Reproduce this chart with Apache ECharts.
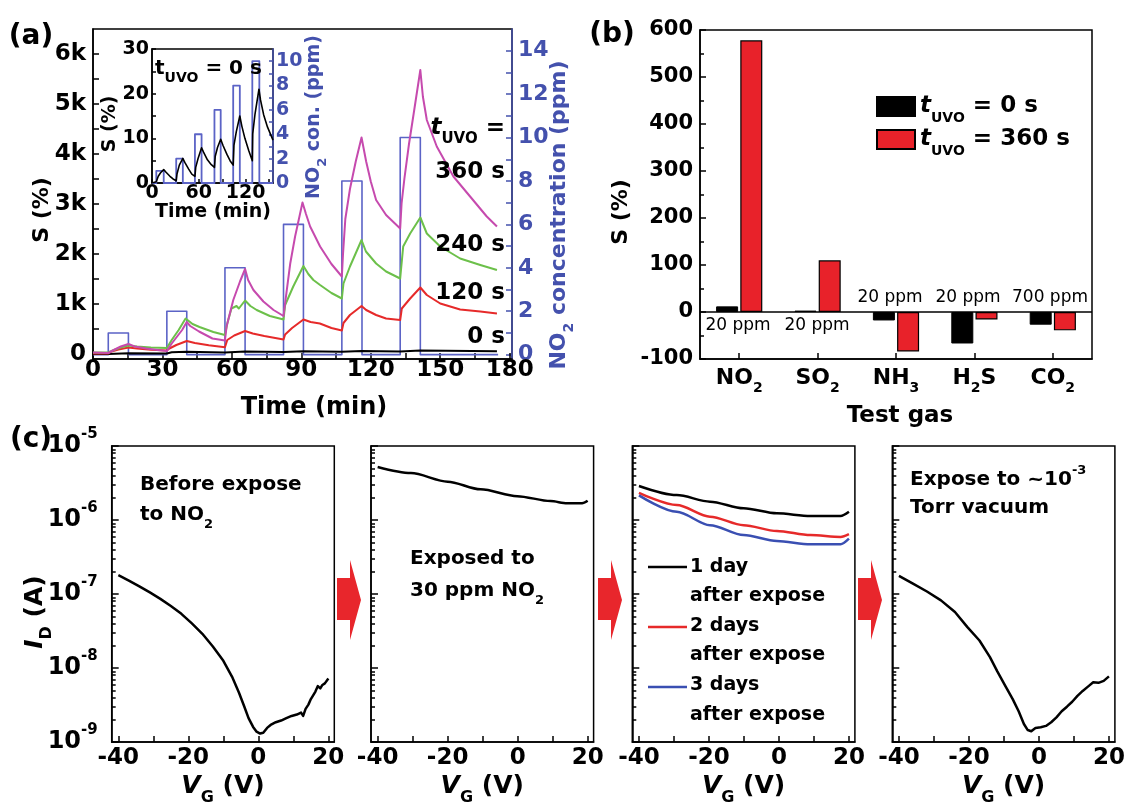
<!DOCTYPE html>
<html>
<head>
<meta charset="utf-8">
<script src="https://cdn.jsdelivr.net/npm/echarts@6/dist/echarts.min.js"></script>
<style>
html, body { margin: 0; padding: 0; background: #fff; }
#main { width: 1126px; height: 810px; }
</style>
</head>
<body>
<div id="main"></div>
<script>
// ---------- (a) response S (%) vs time (min) ----------
var s0s = [[0,0],[6.6,0],[15.3,15],[31.9,10],[34,35],[40.5,45],[57,30],[65.7,50],[82.3,40],[90.9,55],[107.5,45],[116,60],[132.7,50],[141.4,70],[174.5,55]];
var s120s = [[0,10],[6.6,10],[8,50],[11,90],[15.3,130],[19,110],[25,85],[31.9,70],[33,110],[36,180],[40.5,260],[44,220],[50,175],[57,135],[58,280],[61,370],[65.7,460],[69,410],[74,360],[82.3,290],[83,390],[86,520],[90.9,690],[94,640],[98,610],[103,520],[107.5,470],[108.2,620],[111,780],[116,960],[118,880],[122.3,780],[126.6,710],[132.7,680],[133.4,910],[137,1110],[141.4,1330],[144.2,1180],[150,1010],[158.6,890],[167.3,850],[174.5,810]];
var s240s = [[0,30],[6.6,30],[9,80],[12,130],[15.3,170],[19,150],[25,130],[31.9,120],[34,280],[37,480],[40,710],[43,600],[46,540],[52,440],[57,380],[58,610],[59.8,910],[62,960],[63,910],[65.7,1070],[68,960],[70.7,880],[76.4,760],[82.3,690],[83,980],[86.5,1350],[90.9,1760],[93,1600],[95.2,1480],[98.1,1380],[103,1220],[107.5,1110],[108.2,1410],[111,1750],[116,2280],[117.9,2050],[122.3,1810],[126.6,1650],[132.7,1510],[134,2150],[137,2410],[141.4,2730],[144.2,2410],[150,2150],[158.6,1910],[167.3,1780],[174.5,1680]];
var s360s = [[0,30],[6.6,20],[9,80],[12,150],[15.3,200],[18,150],[23,110],[28,80],[31.9,60],[34,210],[36.5,360],[38.5,480],[40.5,640],[42,560],[45.8,450],[51.6,310],[57,270],[57.7,550],[60.6,1080],[63.5,1450],[65.7,1700],[67,1480],[69.3,1280],[73.6,1050],[78,880],[82.3,760],[82.8,950],[85.2,1810],[87.3,2350],[90.5,3030],[92,2800],[93.8,2550],[98.1,2150],[103,1800],[107.5,1550],[108,2000],[109,2700],[111,3300],[113.5,3850],[116,4330],[118,3850],[120,3450],[122.3,3080],[126.6,2780],[132.7,2510],[133.3,3010],[134.5,3500],[136.5,4200],[138.5,4800],[141.4,5680],[142.5,5150],[144.2,4680],[148.5,4150],[155.7,3550],[162.9,3150],[170.1,2750],[174.5,2550]];
var pulseStart = [6.6, 31.9, 57, 82.3, 107.5, 132.7];
var pulseEnd = [15.3, 40.5, 65.7, 90.9, 116.2, 141.4];
var pulsePpm = [1, 2, 4, 6, 8, 10];
var timeTicks = [0,15,30,45,60,75,90,105,120,135,150,165,180];
var timeLabels = [0,30,60,90,120,150,180];
var sTicks = [0,500,1000,1500,2000,2500,3000,3500,4000,4500,5000,5500,6000];
var sLabels = [0,1000,2000,3000,4000,5000,6000];
var ppmTicks = [0,1,2,3,4,5,6,7,8,9,10,11,12,13,14];
var ppmLabels = [0,2,4,6,8,10,12,14];

// ---------- (a) inset, t_UVO = 0 s ----------
var insetS = [[0,0],[5.5,0.3],[8,1.5],[11,2.3],[15,3],[18,2.4],[23,1.5],[27,0.9],[31,0.5],[32,2],[35,4],[39.5,5.5],[42,4.6],[47,3.1],[51,2],[55,1.5],[56,3.5],[59,5.5],[63.5,7.9],[66,6.9],[71,5.2],[76,4.1],[80,3.5],[81,6],[84,8],[88,9.8],[91,8.4],[96,6.4],[100,5],[104,4],[105,8.5],[108,11.5],[112.5,15],[115,12.8],[119,10],[124,7.2],[128.5,5],[129,11],[132,15.5],[137,21],[139,18.6],[143,15.3],[148,12.5],[155,9.6]];
var insetPulseStart = [5.5, 31, 55, 80, 104, 128.5];
var insetPulseEnd = [15, 39.5, 63.5, 88, 112.5, 137.5];
var insetPulsePpm = [1, 2, 4, 6, 8, 10];
var insetTimeTicks = [0,30,60,90,120,150];
var insetTimeLabels = [0,60,120];
var insetSTicks = [0,5,10,15,20,25,30];
var insetSLabels = [0,10,20,30];
var insetPpmTicks = [0,1,2,3,4,5,6,7,8,9,10];
var insetPpmLabels = [0,2,4,6,8,10];

// ---------- (b) selectivity ----------
var gasNames = ['NO2', 'SO2', 'NH3', 'H2S', 'CO2'];
var sUvo0 = [12, 3, -18, -67, -27];
var sUvo360 = [578, 110, -84, -16, -39];
var gasConc = ['20 ppm', '20 ppm', '20 ppm', '20 ppm', '700 ppm'];

// ---------- (c) transfer curves, I_D (A) vs V_G (V) ----------
var vg1 = [-40,-37,-34,-31,-28,-25,-22,-19,-16,-13,-10,-7.5,-5.5,-4,-2.8,-1.5,-0.5,0.5,1.4,2.5,3.5,5,6.5,8,9.5,11,12.2,12.8,13.5,14.3,15,15.7,16.3,17,17.7,18.3,19,20];
var id1 = [1.8e-7,1.52e-7,1.27e-7,1.05e-7,8.6e-8,6.9e-8,5.4e-8,4.0e-8,2.9e-8,1.95e-8,1.25e-8,7.6e-9,4.6e-9,3.0e-9,2.1e-9,1.6e-9,1.38e-9,1.3e-9,1.33e-9,1.55e-9,1.7e-9,1.85e-9,1.95e-9,2.1e-9,2.25e-9,2.35e-9,2.5e-9,2.25e-9,2.8e-9,3.2e-9,3.8e-9,4.3e-9,4.8e-9,5.7e-9,5.3e-9,5.9e-9,6.2e-9,7.2e-9];
var vg2 = [-40,-30.5,-20,-10.6,-0.1,9.4,14.1,18.4,20];
var id2 = [5.2e-6,4.3e-6,3.3e-6,2.6e-6,2.1e-6,1.8e-6,1.68e-6,1.68e-6,1.82e-6];
var vg3 = [-40,-29.2,-19.7,-10.1,-0.6,9,17.6,20];
var id3Day1 = [2.88e-6,2.17e-6,1.77e-6,1.44e-6,1.23e-6,1.13e-6,1.13e-6,1.29e-6];
var id3Day2 = [2.33e-6,1.59e-6,1.11e-6,8.5e-7,7.1e-7,6.25e-7,5.9e-7,6.45e-7];
var id3Day3 = [2.15e-6,1.29e-6,8.5e-7,6.25e-7,5.2e-7,4.7e-7,4.7e-7,5.6e-7];
var vg4 = [-40,-36,-32,-28,-24,-20.5,-17,-14,-11.9,-9.5,-7.5,-5.8,-4.3,-3.2,-2.2,-1,0.5,2,3.5,5,6.5,8,9.5,11,12.5,14,15.5,17,18.5,20];
var id4 = [1.76e-7,1.38e-7,1.08e-7,8.2e-8,5.7e-8,3.6e-8,2.35e-8,1.4e-8,9.0e-9,5.6e-9,3.8e-9,2.6e-9,1.75e-9,1.45e-9,1.4e-9,1.55e-9,1.58e-9,1.65e-9,1.85e-9,2.15e-9,2.6e-9,3.0e-9,3.5e-9,4.2e-9,4.9e-9,5.6e-9,6.4e-9,6.3e-9,6.7e-9,7.7e-9];
var vgTicks = [-40,-30,-20,-10,0,10,20];
var vgLabels = [-40,-20,0,20];
var logLabels = [-9,-8,-7,-6,-5];

var FONT = 'DejaVu Sans';
var BLUE_TXT = '#4451ad';
var BLUE_LN = '#5b63c6';
var MAGENTA = '#c64aae';
var GREEN = '#6cc04a';
var RED = '#e62a2a';
var BAR_RED = '#e8222a';

function txt(size, color, extra) {
  color = color || '#000';
  return Object.assign({fontFamily: FONT, fontWeight: 'bold', fontSize: size, color: color, fill: color}, extra || {});
}
function richSet(size, color, sub) {
  sub = sub || Math.round(size * 0.62);
  var H = Math.round(size * 1.6), d = Math.round(size * 0.32);
  return {
    m: txt(size, color, {lineHeight: H, verticalAlign: 'middle'}),
    i: txt(size, color, {lineHeight: H, verticalAlign: 'middle', fontStyle: 'italic'}),
    r: txt(size, color, {lineHeight: H, verticalAlign: 'middle', fontWeight: 'normal'}),
    s: txt(sub, color, {lineHeight: H - 2 * d, verticalAlign: 'bottom'}),
    p: txt(sub, color, {lineHeight: H - 2 * d, verticalAlign: 'top'})
  };
}
function gt(x, y, text, size, o) {
  o = o || {};
  var color = o.color || '#000';
  return {
    type: 'text', x: x, y: y, rotation: o.rot || 0, z: 100, silent: true,
    style: {
      text: text, rich: richSet(size, color, o.sub),
      fill: color, fontFamily: FONT, fontWeight: 'bold', fontSize: size,
      align: o.align || 'center', textAlign: o.align || 'center',
      verticalAlign: 'middle', textVerticalAlign: 'middle'
    }
  };
}
function vAxis(o) {
  var color = o.color || '#000';
  var label = {show: false};
  if (o.labels) {
    label = txt(o.size, color, {show: true, customValues: o.labels, margin: o.margin});
    if (o.fmt) label.formatter = o.fmt;
    if (o.rich) label.rich = o.rich;
    if (o.valign) label.verticalAlign = o.valign;
  }
  return {
    type: 'value', gridIndex: o.grid, position: o.pos, min: o.min, max: o.max,
    splitLine: {show: false},
    axisLine: {show: o.line !== false, onZero: false, lineStyle: {color: color, width: 1.5}},
    axisTick: {show: true, inside: true, length: o.len || 6, customValues: o.ticks, lineStyle: {color: color, width: 1.5}},
    axisLabel: label
  };
}
function lineS(name, xi, yi, data, color, w, extra) {
  return Object.assign({
    name: name, type: 'line', xAxisIndex: xi, yAxisIndex: yi, data: data,
    symbol: 'none', showSymbol: false, silent: true, z: 3,
    lineStyle: {color: color, width: w, join: 'round'}, itemStyle: {color: color},
    emphasis: {disabled: true}
  }, extra || {});
}
function pulseLine(st, en, v, tEnd) {
  var pts = [[0, 0]];
  for (var i = 0; i < st.length; i++) {
    pts.push([st[i], 0], [st[i], v[i]], [en[i], v[i]], [en[i], 0]);
  }
  pts.push([tEnd, 0]);
  return pts;
}
function logPairs(v, id) {
  return v.map(function (x, i) { return [x, Math.log10(id[i])]; });
}
function gridBox(left, top, width, height, extra) {
  return Object.assign({left: left, top: top, width: width, height: height, show: true,
    borderColor: '#000', borderWidth: 1.5, outerBoundsMode: 'none', containLabel: false}, extra || {});
}

// minor ticks of the log axes
var logMinor = [];
for (var n = -9; n < -5; n++) {
  for (var k = 2; k <= 9; k++) logMinor.push(n + Math.log10(k));
}

var cLeft = [111.7, 371, 632.3, 892.3];
var cTop = 446, cW = 222.6, cH = 296;

var grids = [
  gridBox(93, 29, 419, 330),
  gridBox(152, 49, 121, 134, {backgroundColor: '#fff'}),
  gridBox(700, 30, 392, 329)
];
cLeft.forEach(function (l) { grids.push(gridBox(l, cTop, cW, cH)); });

var kFmt = function (v) { return v === 0 ? '0' : (v / 1000) + 'k'; };
var logFmt = function (v) { return '{m|10}{p|' + v + '}'; };
var gasFmt = function (v) { return '{m|' + v.replace(/(\d)/g, '}{s|$1}{m|') + '}'; };

var xAxes = [
  vAxis({grid: 0, pos: 'bottom', min: 0, max: 181, ticks: timeTicks, labels: timeLabels, size: 23, margin: 11, valign: 'middle'}),
  vAxis({grid: 1, pos: 'bottom', min: 0, max: 155, ticks: insetTimeTicks, labels: insetTimeLabels, size: 19, margin: 10, valign: 'middle', len: 4}),
  {
    type: 'category', gridIndex: 2, position: 'bottom', data: gasNames,
    axisLine: {show: true, onZero: false, lineStyle: {color: '#000', width: 1.5}},
    axisTick: {show: true, inside: true, alignWithLabel: true, length: 6, lineStyle: {color: '#000', width: 1.5}},
    axisLabel: txt(22, '#000', {interval: 0, hideOverlap: false, margin: 19, verticalAlign: 'middle', formatter: gasFmt, rich: richSet(22, '#000', 14)}),
    splitLine: {show: false}
  }
];
var yAxes = [
  vAxis({grid: 0, pos: 'left', min: -100, max: 6500, ticks: sTicks, labels: sLabels, size: 23, margin: 7, fmt: kFmt}),
  vAxis({grid: 0, pos: 'right', min: -0.2, max: 15, ticks: ppmTicks, labels: ppmLabels, size: 22, margin: 6, color: BLUE_TXT}),
  vAxis({grid: 1, pos: 'left', min: 0, max: 30, ticks: insetSTicks, labels: insetSLabels, size: 19, margin: 3, len: 4}),
  vAxis({grid: 1, pos: 'right', min: 0, max: 11, ticks: insetPpmTicks, labels: insetPpmLabels, size: 19, margin: 3, len: 4, color: BLUE_TXT}),
  {
    type: 'value', gridIndex: 2, position: 'left', min: -100, max: 600, interval: 100,
    splitLine: {show: false},
    axisLine: {show: true, onZero: false, lineStyle: {color: '#000', width: 1.5}},
    axisTick: {show: true, inside: true, length: 6, lineStyle: {color: '#000', width: 1.5}},
    minorTick: {show: true, splitNumber: 2, length: 4, lineStyle: {color: '#000', width: 1.5}},
    axisLabel: txt(21, '#000', {margin: 7})
  }
];
for (var g = 0; g < 4; g++) {
  xAxes.push(vAxis({grid: 3 + g, pos: 'bottom', min: -41.9, max: 21.7, ticks: vgTicks, labels: vgLabels, size: 23, margin: 16, valign: 'middle'}));
  yAxes.push(vAxis({grid: 3 + g, pos: 'left', min: -9, max: -5, ticks: logLabels, labels: g === 0 ? logLabels : null,
    size: 24, margin: 14, fmt: logFmt, rich: richSet(24, '#000', 15), len: 7}));
}
for (var g2 = 0; g2 < 4; g2++) {
  yAxes.push(vAxis({grid: 3 + g2, pos: 'left', min: -9, max: -5, ticks: logMinor, line: false, len: 4}));
}

var series = [
  lineS('a-no2', 0, 1, pulseLine(pulseStart, pulseEnd, pulsePpm, 175), BLUE_LN, 1.6, {z: 2}),
  lineS('a-0s', 0, 0, s0s, '#000', 2),
  lineS('a-120s', 0, 0, s120s, RED, 2),
  lineS('a-240s', 0, 0, s240s, GREEN, 2),
  lineS('a-360s', 0, 0, s360s, MAGENTA, 2),
  lineS('in-no2', 1, 3, pulseLine(insetPulseStart, insetPulseEnd, insetPulsePpm, 155), BLUE_LN, 1.8, {z: 2}),
  lineS('in-s', 1, 2, insetS, '#000', 1.6),
  {
    name: '0 s', type: 'bar', xAxisIndex: 2, yAxisIndex: 4, data: sUvo0,
    barWidth: 22, barGap: '10%', silent: true,
    itemStyle: {color: '#000', borderColor: '#000', borderWidth: 1},
    emphasis: {disabled: true},
    markLine: {silent: true, symbol: ['none', 'none'], label: {show: false},
      lineStyle: {color: '#000', width: 1.5, type: 'solid'}, data: [{yAxis: 0}]}
  },
  {
    name: '360 s', type: 'bar', xAxisIndex: 2, yAxisIndex: 4, data: sUvo360,
    barWidth: 22, barGap: '10%', silent: true,
    itemStyle: {color: BAR_RED, borderColor: '#000', borderWidth: 1.2},
    emphasis: {disabled: true}
  },
  lineS('c1', 3, 4 + 1, logPairs(vg1, id1), '#000', 2.5),
  lineS('c2', 4, 4 + 2, logPairs(vg2, id2), '#000', 2.5, {smooth: 0.3, smoothMonotone: 'x'}),
  lineS('c3-1', 5, 4 + 3, logPairs(vg3, id3Day1), '#000', 2.5, {smooth: 0.3, smoothMonotone: 'x'}),
  lineS('c3-2', 5, 4 + 3, logPairs(vg3, id3Day2), RED, 2.5, {smooth: 0.3, smoothMonotone: 'x'}),
  lineS('c3-3', 5, 4 + 3, logPairs(vg3, id3Day3), '#3a4fb2', 2.5, {smooth: 0.3, smoothMonotone: 'x'}),
  lineS('c4', 6, 4 + 4, logPairs(vg4, id4), '#000', 2.5)
];

function arrow(x0) {
  return {type: 'polygon', z: 100, silent: true,
    shape: {points: [[x0, 578], [x0 + 13, 578], [x0 + 13, 560], [x0 + 24, 600], [x0 + 13, 640], [x0 + 13, 620], [x0, 620]]},
    style: {fill: '#e8262c'}};
}
function legLine(y, color) {
  return {type: 'line', z: 100, silent: true, shape: {x1: 648, y1: y, x2: 687, y2: y}, style: {stroke: color, lineWidth: 2.5}};
}

var G = [
  // (a)
  gt(31, 37, '{m|(a)}', 28),
  gt(42, 210, '{m|S (%)}', 22, {rot: Math.PI / 2}),
  gt(314, 408, '{m|Time (min)}', 24),
  gt(559, 215, '{m|NO}{s|2}{m| concentration (ppm)}', 22, {rot: Math.PI / 2, color: BLUE_TXT, sub: 14}),
  gt(505, 128, '{i|t}{s|UVO}{m| =}', 23, {align: 'right', sub: 15}),
  gt(505, 172, '{m|360 s}', 23, {align: 'right'}),
  gt(505, 245, '{m|240 s}', 23, {align: 'right'}),
  gt(505, 293, '{m|120 s}', 23, {align: 'right'}),
  gt(505, 337, '{m|0 s}', 23, {align: 'right'}),
  // inset
  gt(110, 124, '{m|S (%)}', 19, {rot: Math.PI / 2}),
  gt(213, 212, '{m|Time (min)}', 19),
  gt(314, 117, '{m|NO}{s|2}{m| con. (ppm)}', 19, {rot: Math.PI / 2, color: BLUE_TXT, sub: 13}),
  gt(155, 69, '{m|t}{s|UVO}{m| = 0 s}', 20, {align: 'left', sub: 14}),
  // (b)
  gt(612, 35, '{m|(b)}', 28),
  gt(621, 212, '{m|S (%)}', 22, {rot: Math.PI / 2}),
  gt(900, 416, '{m|Test gas}', 23),
  gt(738, 326, '{r|' + gasConc[0] + '}', 17),
  gt(817, 326, '{r|' + gasConc[1] + '}', 17),
  gt(890, 298, '{r|' + gasConc[2] + '}', 17),
  gt(968, 298, '{r|' + gasConc[3] + '}', 17),
  gt(1050, 298, '{r|' + gasConc[4] + '}', 17),
  // (c)
  gt(31, 440, '{m|(c)}', 28),
  gt(35, 612, '{i|I}{s|D}{m| (A)}', 25, {rot: Math.PI / 2, sub: 16}),
  gt(140, 485, '{m|Before expose}', 20, {align: 'left'}),
  gt(140, 515, '{m|to NO}{s|2}', 20, {align: 'left', sub: 13}),
  gt(410, 559, '{m|Exposed to}', 20, {align: 'left'}),
  gt(410, 591, '{m|30 ppm NO}{s|2}', 20, {align: 'left', sub: 13}),
  gt(910, 480, '{m|Expose to ~10}{p|-3}', 20, {align: 'left', sub: 13}),
  gt(910, 508, '{m|Torr vacuum}', 20, {align: 'left'}),
  legLine(567, '#000'), legLine(627, RED), legLine(687, '#3a4fb2'),
  gt(690, 567, '{m|1 day}', 19, {align: 'left'}),
  gt(690, 596, '{m|after expose}', 19, {align: 'left'}),
  gt(690, 626, '{m|2 days}', 19, {align: 'left'}),
  gt(690, 655, '{m|after expose}', 19, {align: 'left'}),
  gt(690, 685, '{m|3 days}', 19, {align: 'left'}),
  gt(690, 715, '{m|after expose}', 19, {align: 'left'}),
  arrow(337), arrow(598), arrow(858)
];
cLeft.forEach(function (l) {
  G.push(gt(l + cW / 2, 786, '{i|V}{s|G}{m| (V)}', 25, {sub: 16}));
});

var option = {
  animation: false,
  backgroundColor: '#fff',
  textStyle: {fontFamily: FONT},
  grid: grids,
  xAxis: xAxes,
  yAxis: yAxes,
  legend: {
    data: ['0 s', '360 s'], left: 876, top: 95, orient: 'vertical', padding: 0,
    itemWidth: 38, itemHeight: 19, itemGap: 3, icon: 'rect', selectedMode: false,
    formatter: function (n) { return '{i|t}{s|UVO}{m| = ' + n + '}'; },
    textStyle: txt(23, '#000', {rich: richSet(23, '#000', 14)})
  },
  series: series,
  graphic: {elements: G}
};

var chart = echarts.init(document.getElementById('main'), null, {renderer: 'canvas'});
chart.setOption(option);
</script>
</body>
</html>
